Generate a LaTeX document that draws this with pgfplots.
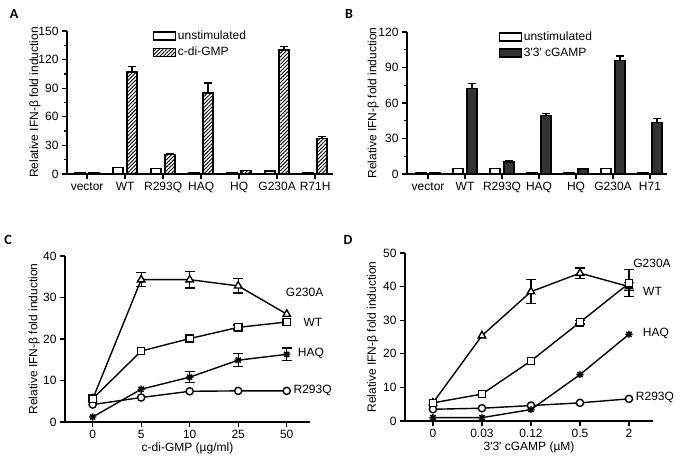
\documentclass[border=0pt]{standalone}
\usepackage{pgfplots}
\pgfplotsset{compat=1.18}
\usetikzlibrary{patterns,patterns.meta}
\usepackage{fontspec}
\setmainfont{Liberation Sans}
\newfontfamily\letterfont{Carlito}

\pgfdeclareplotmark{ast8}{%
 \pgfpathmoveto{\pgfqpoint{-\pgfplotmarksize}{0pt}}\pgfpathlineto{\pgfqpoint{\pgfplotmarksize}{0pt}}%
 \pgfpathmoveto{\pgfqpoint{0pt}{-\pgfplotmarksize}}\pgfpathlineto{\pgfqpoint{0pt}{\pgfplotmarksize}}%
 \pgfpathmoveto{\pgfqpoint{-0.707\pgfplotmarksize}{-0.707\pgfplotmarksize}}\pgfpathlineto{\pgfqpoint{0.707\pgfplotmarksize}{0.707\pgfplotmarksize}}%
 \pgfpathmoveto{\pgfqpoint{-0.707\pgfplotmarksize}{0.707\pgfplotmarksize}}\pgfpathlineto{\pgfqpoint{0.707\pgfplotmarksize}{-0.707\pgfplotmarksize}}%
 \pgfusepathqstroke}

\definecolor{darkbar}{HTML}{333333}
\newcommand{\fs}{\fontsize{12}{14}\selectfont}

\pgfplotsset{
 panel/.style={
  scale only axis, axis x line=bottom, axis y line=left,
  axis line style={-, line width=1.6pt},
  tick style={black, line width=1.3pt}, tick align=outside,
  major tick length=5pt, minor tick length=3pt,
  /pgf/number format/assume math mode=true,
  tick label style={font=\fs},
  label style={font=\fs},
  ymin=0, clip=false,
  ylabel={Relative IFN-β fold induction},
 },
 barpanel/.style={panel, ybar=4pt, bar width=10pt,
  legend style={draw=none, fill=none, row sep=2pt, font=\fs, anchor=north west},
  legend cell align=left},
 barU/.style={draw=black, line width=1.3pt, fill=white,
  legend image code/.code={\draw[##1, ybar=false] (0pt,-4pt) rectangle (22pt,4pt);}},
 barS/.style={draw=black, line width=1.3pt,
  legend image code/.code={\draw[##1, ybar=false] (0pt,-4pt) rectangle (22pt,4pt);},
  error bars/y dir=plus, error bars/y explicit,
  error bars/error bar style={line width=1.3pt, black},
  error bars/error mark options={rotate=90, mark size=4pt, line width=1.3pt, black}},
 errC/.style={black, only marks, mark=none, forget plot,
  error bars/y dir=both, error bars/y explicit,
  error bars/error bar style={line width=1.3pt, black, solid},
  error bars/error mark options={rotate=90, mark size=5pt, line width=1.3pt, black}},
 lineC/.style={black, line width=1.4pt, mark size=3.6pt, mark options={fill=white, solid, line width=1.4pt}},
}

\begin{document}
\begin{tikzpicture}
\path[use as bounding box] (0pt,0pt) rectangle (683pt,466pt);

% Panel letters
\node[font=\letterfont\bfseries\fontsize{14}{15}\selectfont] at (14pt,452pt) {A};
\node[font=\letterfont\bfseries\fontsize{14}{15}\selectfont] at (349pt,452pt) {B};
\node[font=\letterfont\bfseries\fontsize{14}{15}\selectfont] at (8pt,226pt) {C};
\node[font=\letterfont\bfseries\fontsize{14}{15}\selectfont] at (348pt,226pt) {D};

% Panel A
\begin{axis}[barpanel, at={(67pt,292pt)}, anchor=south west, width=266pt, height=143pt,
  xmin=-0.53, xmax=6.47, ymax=150, ytick={0,30,...,150}, minor y tick num=1,
  xtick={0,...,6}, xticklabels={vector,WT,R293Q,HAQ,HQ,G230A,R71H},
  ylabel style={at={(axis description cs:-0.12,0.5)}, anchor=center},
  legend style={at={(axis description cs:0.31,1.03)}}]
\addplot[barU] coordinates {(0,1) (1,7) (2,6) (3,1) (4,1) (5,3) (6,1)};
\addlegendentry{unstimulated}
\addplot[barS, pattern={Lines[angle=45,distance=2.6pt,line width=0.9pt]}] coordinates {
 (0,1.5) +- (0,0) (1,107) +- (0,6) (2,20.5) +- (0,1) (3,85) +- (0,10.4) (4,3.5) +- (0,0.4) (5,130) +- (0,3.5) (6,37) +- (0,2.5)};
\addlegendentry{c-di-GMP}
\end{axis}

% Panel B
\begin{axis}[barpanel, at={(407pt,292pt)}, anchor=south west, width=260pt, height=142pt,
  xmin=-0.57, xmax=6.46, ymax=120, ytick={0,30,...,120}, minor y tick num=1,
  xtick={0,...,6}, xticklabels={vector,WT,R293Q,HAQ,HQ,G230A,H71},
  ylabel style={at={(axis description cs:-0.13,0.5)}, anchor=center},
  legend style={at={(axis description cs:0.34,1.03)}}]
\addplot[barU] coordinates {(0,1) (1,4.5) (2,4.5) (3,1) (4,1) (5,4.5) (6,1)};
\addlegendentry{unstimulated}
\addplot[barS, fill=darkbar] coordinates {
 (0,1) +- (0,0) (1,72.3) +- (0,4) (2,10.1) +- (0,0.9) (3,49.3) +- (0,2) (4,4.2) +- (0,0.3) (5,96.2) +- (0,3.6) (6,43.5) +- (0,3.6)};
\addlegendentry{3\textquotesingle3\textquotesingle\ cGAMP}
\end{axis}

% Panel C
\begin{axis}[panel, at={(65pt,44pt)}, anchor=south west, width=245pt, height=166pt,
  xmin=-0.57, xmax=4.48, ymax=40, ytick={0,10,...,40},
  xtick={0,...,4}, xticklabels={0,5,10,25,50},
  xlabel={c-di-GMP (µg/ml)},
  xlabel style={at={(axis description cs:0.5,-0.16)}, anchor=center},
  ylabel style={at={(axis description cs:-0.125,0.5)}, anchor=center}]
\addplot[errC] coordinates {(1,34.3) +- (0,1.7) (2,34.3) +- (0,2) (3,32.8) +- (0,1.7)};
\addplot[errC] coordinates {(3,22.8) +- (0,0.6)};
\addplot[errC] coordinates {(2,10.8) +- (0,1.3) (3,14.9) +- (0,1.6) (4,16.3) +- (0,1.5)};
\addplot[lineC, mark=*] coordinates {(0,4.2) (1,5.9) (2,7.4) (3,7.5) (4,7.5)};
\addplot[lineC, mark=ast8] coordinates {(0,1.2) (1,7.9) (2,10.8) (3,14.9) (4,16.3)};
\addplot[lineC, mark=triangle*, mark size=4.3pt] coordinates {(0,5.5) (1,34.3) (2,34.3) (3,32.8) (4,26)};
\addplot[lineC, mark=square*] coordinates {(0,5.6) (1,17.1) (2,20.1) (3,22.8) (4,24.1)};
\node[font=\fs] at (axis cs:4.37,31.3) {G230A};
\node[font=\fs] at (axis cs:4.54,24) {WT};
\node[font=\fs] at (axis cs:4.5,16.4) {HAQ};
\node[font=\fs, anchor=west] at (axis cs:4.07,7.5) {R293Q};
\end{axis}

% Panel D
\begin{axis}[panel, at={(405pt,45pt)}, anchor=south west, width=248pt, height=168pt,
  xmin=-0.57, xmax=4.49, ymax=50, ytick={0,10,...,50},
  xtick={0,...,4}, xticklabels={0,0.03,0.12,0.5,2},
  xlabel={3\textquotesingle3\textquotesingle\ cGAMP (µM)},
  xlabel style={at={(axis description cs:0.5,-0.16)}, anchor=center},
  ylabel style={at={(axis description cs:-0.13,0.5)}, anchor=center}]
\addplot[errC] coordinates {(2,38.5) +- (0,3.6) (3,44) +- (0,1.5) (4,40) +- (0,1.2)};
\addplot[errC] coordinates {(3,29.4) +- (0,0.5) (4,41) +- (0,4)};
\addplot[lineC, mark=*] coordinates {(0,3.5) (1,3.8) (2,4.6) (3,5.4) (4,6.6)};
\addplot[lineC, mark=ast8] coordinates {(0,1) (1,1) (2,3.4) (3,13.8) (4,25.8)};
\addplot[lineC, mark=triangle*, mark size=4.3pt] coordinates {(0,5.4) (1,25.4) (2,38.5) (3,44) (4,40)};
\addplot[lineC, mark=square*] coordinates {(0,5.4) (1,8) (2,17.9) (3,29.4) (4,41)};
\node[font=\fs] at (axis cs:4.47,47) {G230A};
\node[font=\fs] at (axis cs:4.48,38.7) {WT};
\node[font=\fs] at (axis cs:4.55,26.2) {HAQ};
\node[font=\fs, anchor=west] at (axis cs:4.07,7.1) {R293Q};
\end{axis}
\end{tikzpicture}
\end{document}
